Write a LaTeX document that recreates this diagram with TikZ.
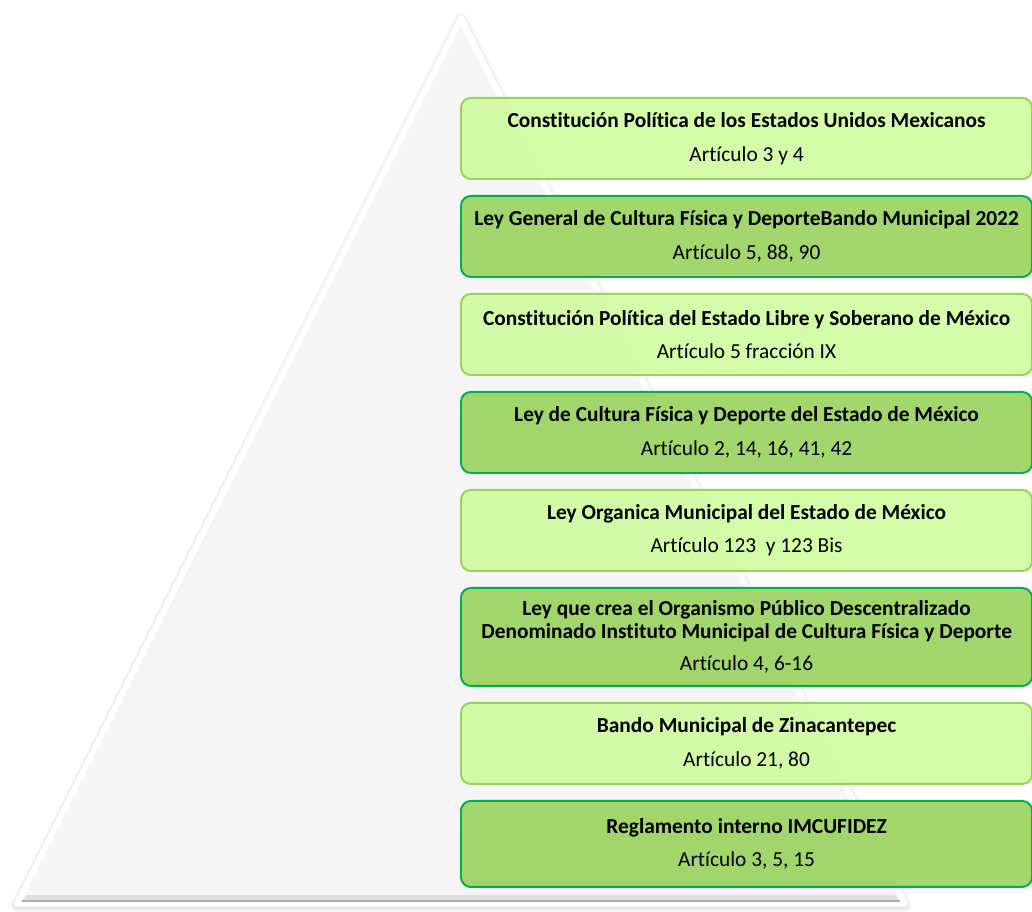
\documentclass[tikz,border=0pt]{standalone}
\usepackage{fontspec}
\setmainfont{Carlito}[Ligatures=NoCommon]
\usetikzlibrary{positioning,shadows.blur}
\definecolor{lightfill}{HTML}{D1FCA2}
\definecolor{lightline}{HTML}{97D35B}
\definecolor{darkfill}{HTML}{9CD362}
\definecolor{darkline}{HTML}{00B050}
\definecolor{pyrfill}{HTML}{F5F5F5}

\begin{document}
\begin{tikzpicture}[x=0.025cm,y=-0.025cm,node distance=0.375cm,
    box/.style={rounded corners=7pt,line width=1.4pt,minimum width=14.275cm,
      minimum height=2.025cm,align=center,font=\fontsize{15.2}{15.8}\selectfont,
      inner sep=1pt,fill opacity=0.93,text opacity=1},
    lightbox/.style={box,draw=lightline,fill=lightfill},
    darkbox/.style={box,draw=darkline,fill=darkfill}]
  \useasboundingbox (0,0) rectangle (1032,912);
  % pyramid behind the boxes
  \path[draw=white,line width=4.2pt,line join=round,fill=pyrfill,
    blur shadow={shadow xshift=0pt,shadow yshift=-1pt,shadow blur radius=5pt,shadow opacity=40}]
    (461,18) -- (905,904) -- (17,904) -- cycle;
  \fill[gray!25] (27,895) -- (895,895) -- (900,901) -- (22,901) -- cycle;
  \draw[gray!65,line width=1.2pt] (22,901) -- (900,901);
  % levels
  \node[lightbox,anchor=north west] (cpeum) at (460,97)
    {\textbf{Constitución Política de los Estados Unidos Mexicanos}\\[8pt] Artículo 3 y 4};
  \node[darkbox] (lgcfd) [below=of cpeum]
    {\textbf{Ley General de Cultura Física y DeporteBando Municipal 2022}\\[8pt] Artículo 5, 88, 90};
  \node[lightbox] (cpelsm) [below=of lgcfd]
    {\textbf{Constitución Política del Estado Libre y Soberano de México}\\[8pt] Artículo 5 fracción IX};
  \node[darkbox] (lcfdem) [below=of cpelsm]
    {\textbf{Ley de Cultura Física y Deporte del Estado de México}\\[8pt] Artículo 2, 14, 16, 41, 42};
  \node[lightbox] (lomem) [below=of lcfdem]
    {\textbf{Ley Organica Municipal del Estado de México}\\[8pt] Artículo 123~ y 123 Bis};
  \node[darkbox,minimum height=2.45cm] (opd) [below=of lomem]
    {\textbf{Ley que crea el Organismo Público Descentralizado}\\
     \textbf{Denominado Instituto Municipal de Cultura Física y Deporte}\\[7pt] Artículo 4, 6-16};
  \node[lightbox] (bando) [below=of opd]
    {\textbf{Bando Municipal de Zinacantepec}\\[8pt] Artículo 21, 80};
  \node[darkbox,minimum height=2.15cm] (regl) [below=of bando]
    {\textbf{Reglamento interno IMCUFIDEZ}\\[8pt] Artículo 3, 5, 15};
\end{tikzpicture}
\end{document}
